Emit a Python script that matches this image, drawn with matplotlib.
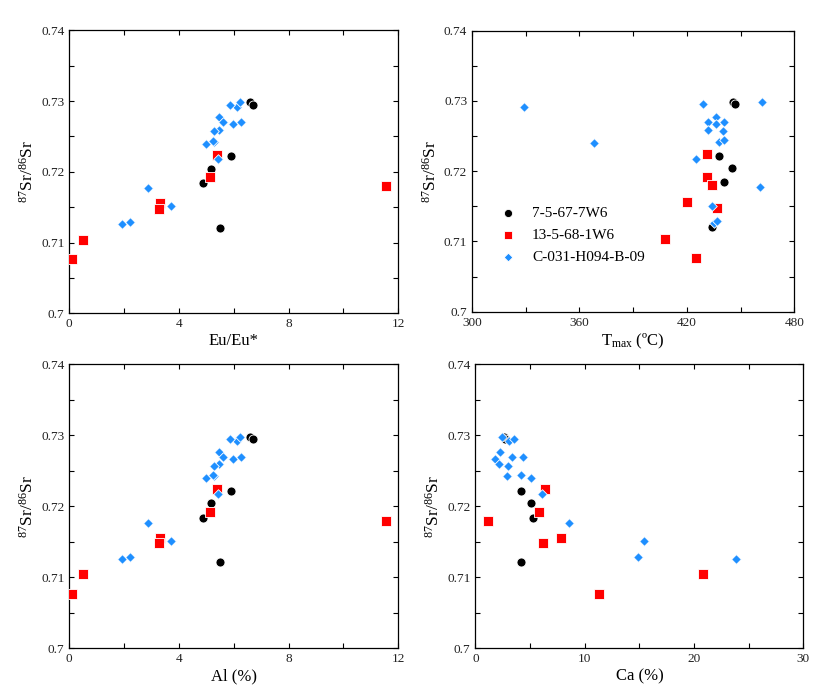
import numpy as np
import matplotlib
matplotlib.use('Agg')
import matplotlib.pyplot as plt
from matplotlib.ticker import MultipleLocator

plt.rcParams['font.family'] = 'Liberation Serif'
plt.rcParams['mathtext.fontset'] = 'custom'
plt.rcParams['mathtext.rm'] = 'Liberation Serif'
plt.rcParams['mathtext.it'] = 'Liberation Serif:italic'

# 7-5-67-7W6 (circulos negros)
sr_a = [0.7298, 0.7295, 0.7222, 0.7204, 0.7184, 0.7121]
eu_a = [6.61, 6.71, 5.90, 5.16, 4.89, 5.48]
tmax_a = [446, 447, 438, 445, 441, 434]
al_a = [6.61, 6.71, 5.90, 5.16, 4.89, 5.48]
ca_a = [2.6, 2.75, 4.21, 5.07, 5.31, 4.21]

# 13-5-68-1W6 (cuadros rojos)
sr_b = [0.7077, 0.7104, 0.7156, 0.7148, 0.7192, 0.7224, 0.7180]
eu_b = [0.11, 0.49, 3.30, 3.26, 5.14, 5.39, 11.54]
tmax_b = [425, 408, 420, 437, 431, 431, 434]
al_b = [0.11, 0.49, 3.30, 3.26, 5.14, 5.39, 11.54]
ca_b = [11.35, 20.86, 7.84, 6.19, 5.83, 6.38, 1.16]

# C-031-H094-B-09 (rombos azules)
sr_c = [0.7292, 0.7240, 0.7218, 0.7295, 0.7277, 0.7270, 0.7267, 0.7270, 0.7259,
        0.7257, 0.7242, 0.7244, 0.7151, 0.7126, 0.7129, 0.7177, 0.7298]
eu_c = [6.13, 4.99, 5.42, 5.87, 5.47, 5.61, 5.97, 6.27, 5.45,
        5.28, 5.27, 5.25, 3.71, 1.92, 2.21, 2.86, 6.21]
tmax_c = [329, 368, 425, 429, 436, 432, 436, 441, 432,
          440, 438, 441, 434, 435, 437, 461, 462]
al_c = [6.13, 4.99, 5.42, 5.87, 5.47, 5.61, 5.97, 6.27, 5.45,
        5.28, 5.27, 5.25, 3.71, 1.92, 2.21, 2.86, 6.21]
ca_c = [3.06, 5.10, 6.10, 3.57, 2.29, 3.39, 1.80, 4.39, 2.20,
        2.99, 2.90, 4.15, 15.41, 23.82, 14.86, 8.60, 2.41]

nombres = ['7-5-67-7W6', '13-5-68-1W6', 'C-031-H094-B-09']

fig = plt.figure(figsize=(8.37, 6.95), dpi=100)

posiciones = [
    [0.0828, 0.5492, 0.393, 0.4072],
    [0.564, 0.5515, 0.385, 0.4043],
    [0.0828, 0.0672, 0.393, 0.4086],
    [0.5679, 0.0672, 0.392, 0.4086],
]
xdatos = [(eu_a, eu_b, eu_c), (tmax_a, tmax_b, tmax_c), (al_a, al_b, al_c), (ca_a, ca_b, ca_c)]
xlims = [(0, 12), (300, 480), (0, 12), (0, 30)]
xmaj = [4, 60, 4, 10]
xlabels = ['Eu/Eu*', r'T$_{\mathrm{max}}$ (ºC)', 'Al (%)', 'Ca (%)']

for i in range(4):
    ax = fig.add_axes(posiciones[i])
    xa, xb, xc = xdatos[i]
    ax.scatter(xa, sr_a, marker='o', s=42, color='black', edgecolors='white', linewidths=0.6, label=nombres[0], zorder=3)
    ax.scatter(xb, sr_b, marker='s', s=46, color='#FF0000', edgecolors='white', linewidths=0.6, label=nombres[1], zorder=3)
    ax.scatter(xc, sr_c, marker='D', s=24, color='#1E8FFF', edgecolors='white', linewidths=0.6, label=nombres[2], zorder=3)
    ax.set_xlim(xlims[i])
    ax.set_ylim(0.70, 0.74)
    ax.xaxis.set_major_locator(MultipleLocator(xmaj[i]))
    ax.xaxis.set_minor_locator(MultipleLocator(xmaj[i] / 2))
    ax.yaxis.set_major_locator(MultipleLocator(0.01))
    ax.yaxis.set_minor_locator(MultipleLocator(0.005))
    ax.set_yticks([0.70, 0.71, 0.72, 0.73, 0.74])
    ax.set_yticklabels(['0.7', '0.71', '0.72', '0.73', '0.74'])
    ax.tick_params(which='both', direction='in', top=True, right=True, length=3.6, width=0.8,
                   labelsize=9.5, colors='black', labelcolor='#222222', pad=3.5)
    for sp in ax.spines.values():
        sp.set_linewidth(0.9)
    ax.set_xlabel(xlabels[i], fontsize=12, labelpad=2)
    ax.set_ylabel(r'$^{\mathrm{87}}$Sr/$^{\mathrm{86}}$Sr', fontsize=12.5, labelpad=3)
    if i == 1:
        ax.legend(loc='lower left', bbox_to_anchor=(0.02, 0.12), frameon=False, fontsize=11,
                  handletextpad=0.6, labelspacing=0.55, scatterpoints=1, markerscale=0.9)

fig.savefig('out.png', dpi=100)
